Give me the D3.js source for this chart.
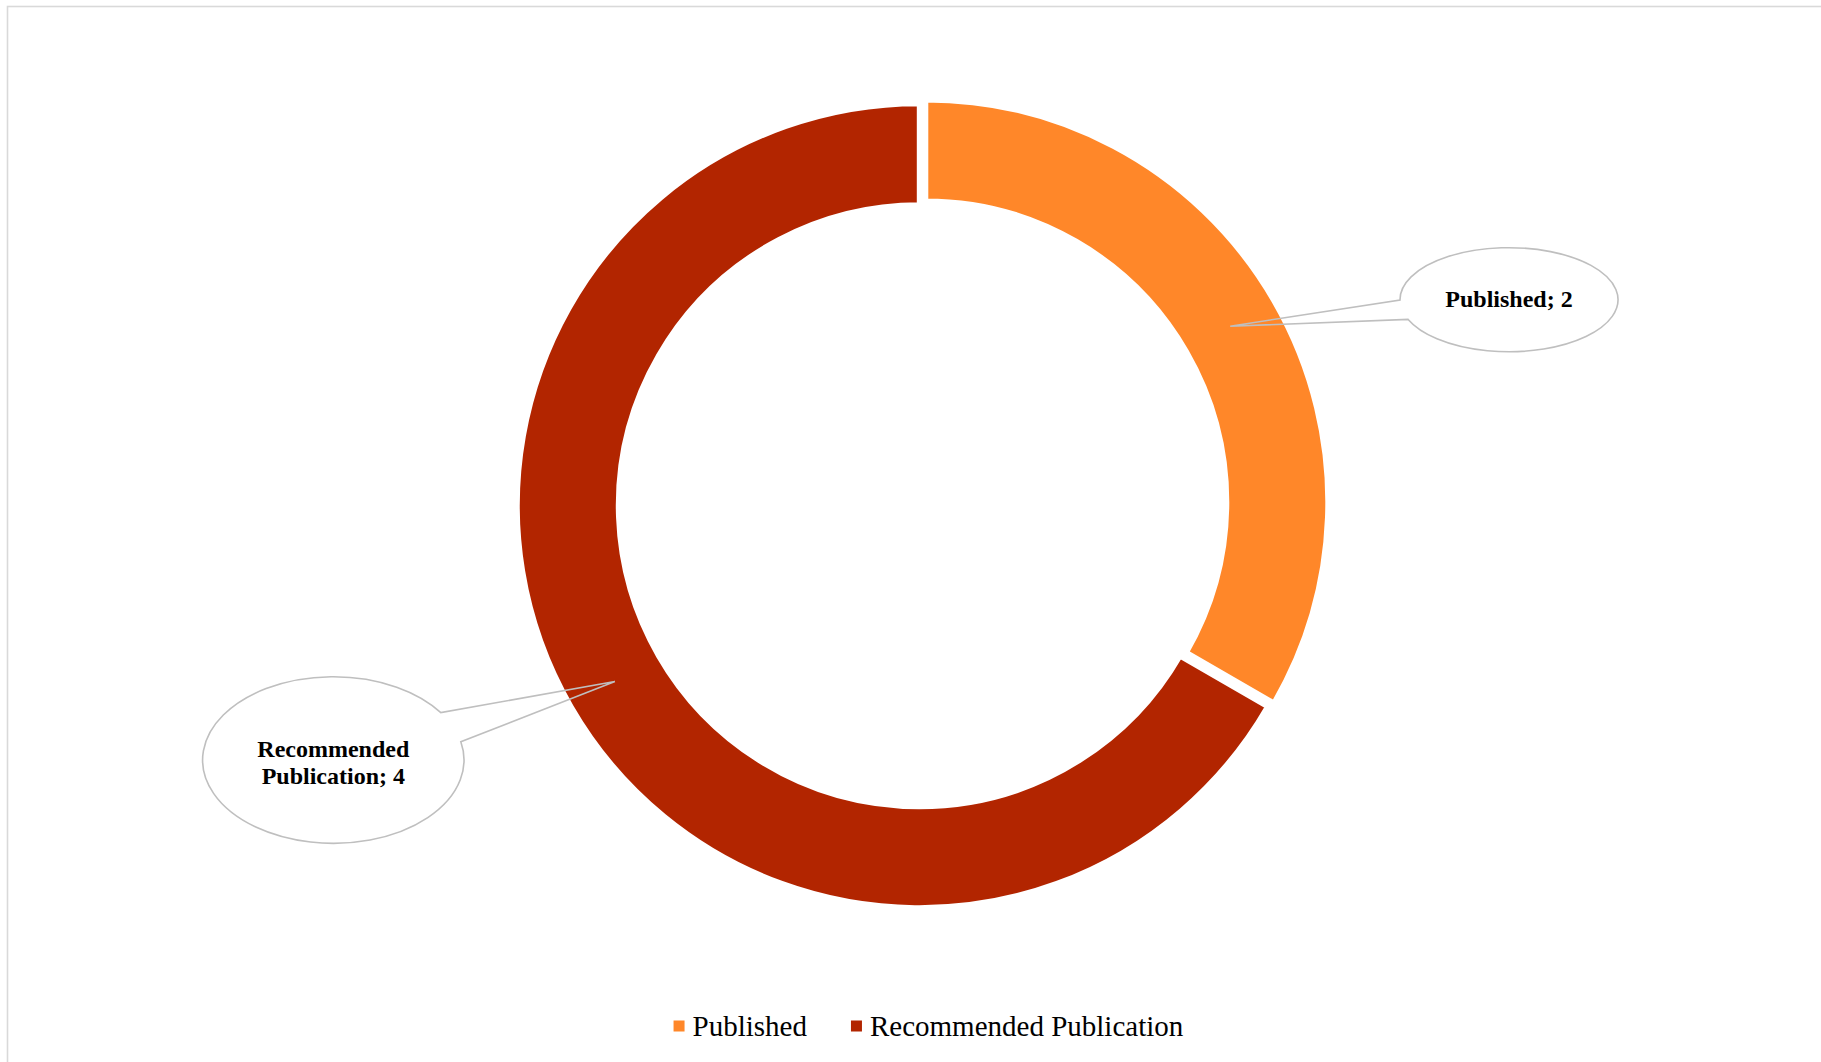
<!DOCTYPE html>
<html>
<head>
<meta charset="utf-8">
<script src="https://cdn.jsdelivr.net/npm/d3@7"></script>
<style>
  html, body { margin: 0; padding: 0; background: #ffffff; }
  svg { display: block; }
</style>
</head>
<body>
<script>
// ---- data ----
const categories = ["Published", "Recommended Publication"];
const values = [2, 4];
const colors = ["#FF8729", "#B22500"];
const labelTexts = [["Published; 2"], ["Recommended", "Publication; 4"]];

// ---- layout ----
const W = 1821, H = 1062;
const cx = 919.3, cy = 505.7;
const outerR = 402, innerR = 301;
const explode = [7.5, 0];
// label bubble centres relative to pie centre, and bubble radii
const labelOffset = [[589.7, -206], [-586, 254.3]];
const bubbleR = [[109, 52], [130.7, 83.3]];
const lineBaselines = [[7.7], [-3.3, 24]];

const svg = d3.select("body").append("svg")
  .attr("width", W).attr("height", H);

svg.append("rect")
  .attr("x", 7.5).attr("y", 6.5)
  .attr("width", W).attr("height", H)
  .attr("fill", "#ffffff")
  .attr("stroke", "#d9d9d9").attr("stroke-width", 1.6);

const pie = d3.pie().sort(null).value(d => d.value);
const arcs = pie(categories.map((c, i) => ({ name: c, value: values[i], i })));
const arc = d3.arc().innerRadius(innerR).outerRadius(outerR);
const color = d3.scaleOrdinal().domain(categories).range(colors);

const g = svg.append("g").attr("transform", `translate(${cx},${cy})`);

function offsetOf(a) {
  const mid = (a.startAngle + a.endAngle) / 2;
  const d = explode[a.data.i];
  return [Math.sin(mid) * d, -Math.cos(mid) * d];
}

g.selectAll("path.slice").data(arcs).enter().append("path")
  .attr("class", "slice")
  .attr("d", arc)
  .attr("transform", a => { const o = offsetOf(a); return `translate(${o[0]},${o[1]})`; })
  .attr("fill", a => color(a.data.name))
  .attr("stroke", "#ffffff")
  .attr("stroke-width", 5)
  .attr("stroke-linejoin", "miter");

// ---- callouts ----
arcs.forEach(a => {
  const i = a.data.i;
  const o = offsetOf(a);
  const c = arc.centroid(a);
  const tip = [c[0] + o[0], c[1] + o[1]];
  const bx = labelOffset[i][0], by = labelOffset[i][1];
  const rx = bubbleR[i][0], ry = bubbleR[i][1];
  const th = Math.atan2((tip[1] - by) / ry, (tip[0] - bx) / rx);
  const spread = 11 * Math.PI / 180;
  const p1 = [bx + rx * Math.cos(th + spread), by + ry * Math.sin(th + spread)];
  const p2 = [bx + rx * Math.cos(th - spread), by + ry * Math.sin(th - spread)];
  const path = `M${p1[0]},${p1[1]} A${rx},${ry} 0 1 1 ${p2[0]},${p2[1]} L${tip[0]},${tip[1]} Z`;
  g.append("path")
    .attr("d", path)
    .attr("fill", "none")
    .attr("stroke", "#bfbfbf")
    .attr("stroke-width", 1.6)
    .attr("stroke-linejoin", "miter");
  const t = g.append("text")
    .attr("text-anchor", "middle")
    .attr("font-family", "'Liberation Serif', 'Times New Roman', serif")
    .attr("font-weight", "bold")
    .attr("font-size", 24)
    .attr("fill", "#000000");
  labelTexts[i].forEach((line, k) => {
    t.append("tspan").attr("x", bx).attr("y", by + lineBaselines[i][k]).text(line);
  });
});

// ---- legend ----
const legendFont = 29;
const legendCenterX = 928.4, legendBaseline = 1036;
const markerSize = 11;
const legend = svg.append("g");
const items = legend.selectAll("g.item").data(categories).enter().append("g").attr("class", "item");
items.append("rect")
  .attr("width", markerSize).attr("height", markerSize)
  .attr("y", legendBaseline - 15.5)
  .attr("fill", d => color(d));
items.append("text")
  .attr("y", legendBaseline)
  .attr("font-family", "'Liberation Serif', 'Times New Roman', serif")
  .attr("font-size", legendFont)
  .attr("fill", "#000000")
  .text(d => d);
// position items
const widths = [];
items.each(function() { widths.push(d3.select(this).select("text").node().getComputedTextLength()); });
const markerGap = 8, itemGap = 44;
const total = widths.reduce((s, w) => s + markerSize + markerGap + w, 0) + itemGap * (widths.length - 1);
let x = legendCenterX - total / 2;
items.each(function(d, i) {
  const sel = d3.select(this);
  sel.select("rect").attr("x", x);
  sel.select("text").attr("x", x + markerSize + markerGap);
  x += markerSize + markerGap + widths[i] + itemGap;
});
</script>
</body>
</html>
